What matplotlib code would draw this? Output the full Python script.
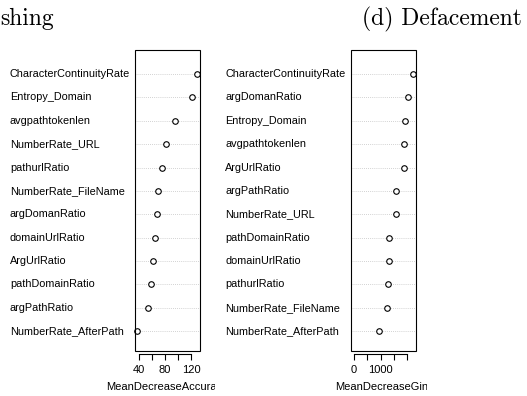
import matplotlib
matplotlib.use('Agg')
import matplotlib.pyplot as plt
from matplotlib.patches import Rectangle
from matplotlib.transforms import Bbox, TransformedBbox, blended_transform_factory

# Variable importance, listed top to bottom as in the picture
phish_features = ['CharacterContinuityRate', 'Entropy_Domain', 'avgpathtokenlen', 'NumberRate_URL',
                  'pathurlRatio', 'NumberRate_FileName', 'argDomanRatio', 'domainUrlRatio',
                  'ArgUrlRatio', 'pathDomainRatio', 'argPathRatio', 'NumberRate_AfterPath']
phish_acc = [128.7, 121.0, 95.7, 82.0, 75.9, 69.8, 68.3, 65.2, 61.7, 58.3, 54.6, 37.4]

deface_features = ['CharacterContinuityRate', 'argDomanRatio', 'Entropy_Domain', 'avgpathtokenlen',
                   'ArgUrlRatio', 'argPathRatio', 'NumberRate_URL', 'pathDomainRatio',
                   'domainUrlRatio', 'pathurlRatio', 'NumberRate_FileName', 'NumberRate_AfterPath']
deface_gini = [2215, 2025, 1895, 1885, 1880, 1575, 1565, 1330, 1320, 1265, 1260, 935]

phish_ticks = [40, 60, 80, 100, 120]
phish_ticklabels = ['40', '', '80', '', '120']
deface_ticks = [0, 500, 1000, 1500, 2000]
deface_ticklabels = ['0', '', '1000', '', '']

W, H = 527, 396
fig = plt.figure(figsize=(W / 100, H / 100), dpi=100)
sans = 'Liberation Sans'
fs = 8


def dotchart(left_px, labels_px, feats, vals, xlim, ticks, ticklabels, xlabel, clip_px):
    ax = fig.add_axes([left_px / W, 1 - 351 / H, 65 / W, 301 / H])
    n = len(feats)
    ys = list(range(n, 0, -1))
    for y in ys:
        ax.axhline(y, color='#c4c4c4', lw=0.6, ls=(0, (1, 1.5)), zorder=1)
    ax.plot(vals, ys, 'o', mfc='white', mec='black', ms=4, mew=0.8, clip_on=False, zorder=3)
    ax.set_xlim(*xlim)
    ax.set_ylim(0.15, 13.03)
    ax.set_yticks([])
    for s in ['top', 'left', 'right']:
        ax.spines[s].set_visible(False)
    ax.spines['bottom'].set_position(('outward', 2))
    ax.spines['bottom'].set_bounds(ticks[0], ticks[-1])
    ax.spines['bottom'].set_linewidth(0.8)
    ax.add_patch(Rectangle((0, 0), 1, 1, transform=ax.transAxes, fill=False,
                           ec='black', lw=0.8, clip_on=False, zorder=4))
    ax.set_xticks(ticks)
    ax.set_xticklabels(ticklabels, fontfamily=sans, fontsize=fs)
    ax.tick_params(axis='x', direction='out', length=4, width=0.8, pad=4)
    tr = blended_transform_factory(fig.transFigure, ax.transData)
    for f, y in zip(feats, ys):
        fig.text(labels_px / W, y, f, transform=tr, ha='left', va='center',
                 fontfamily=sans, fontsize=7.8)
    # axis title, cut by the edge of the subfigure like in the source
    t = fig.text((left_px + 32.5) / W, 1 - 387 / H, xlabel, ha='center', va='center',
                 fontfamily=sans, fontsize=fs)
    t.set_clip_box(TransformedBbox(Bbox.from_extents(0, 0, clip_px / W, 1), fig.transFigure))
    t.set_clip_on(True)
    return ax


dotchart(134.7, 10, phish_features, phish_acc, (33.8, 132.6), phish_ticks, phish_ticklabels,
         'MeanDecreaseAccuracy', 215)
dotchart(350.7, 225, deface_features, deface_gini, (-110, 2310), deface_ticks, deface_ticklabels,
         'MeanDecreaseGini', 427)

# subfigure captions (only the tail of the left one is visible)
fig.text(0.5 / W, 1 - 25 / H, 'shing', ha='left', va='baseline', fontfamily='cmr10', fontsize=17)
fig.text(361.5 / W, 1 - 25 / H, '(d) Defacement', ha='left', va='baseline', fontfamily='cmr10', fontsize=17)

fig.savefig('out.png', dpi=100)
